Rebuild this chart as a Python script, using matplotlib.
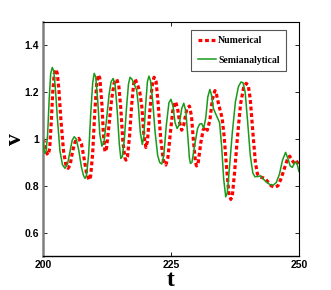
import matplotlib
matplotlib.use("Agg")
import matplotlib.pyplot as plt

# Numerical solution (red dashed)
t_num = [200.0, 200.3, 200.7, 201.0, 201.3, 201.6, 201.9, 202.2, 202.5, 202.8,
         203.1, 203.5, 204.0, 204.5, 204.9, 205.3, 205.8, 206.3, 207.0, 207.5,
         208.0, 208.5, 209.0, 209.3, 209.7, 210.1, 210.5, 210.8, 211.1, 211.5,
         211.8, 212.1, 212.4, 212.9, 213.4, 213.9, 214.4, 214.8, 215.2, 215.6,
         216.0, 216.2, 216.5, 216.9, 217.3, 217.7, 218.0, 218.5, 218.9, 219.3,
         219.7, 220.1, 220.4, 220.8, 221.3, 221.7, 222.1, 222.5, 223.0, 223.5,
         224.0, 224.4, 224.9, 225.4, 225.9, 226.3, 226.7, 227.1, 227.5, 228.1,
         228.6, 229.0, 229.4, 229.8, 230.0, 230.3, 230.8, 231.3, 231.7, 232.1,
         232.6, 233.1, 233.6, 233.9, 234.3, 234.6, 235.0, 235.4, 235.9, 236.3,
         236.7, 237.0, 237.4, 238.0, 238.6, 239.2, 239.7, 240.1, 240.5, 241.0,
         241.5, 241.9, 242.4, 242.9, 243.4, 244.0, 244.6, 245.3, 245.9, 246.5,
         247.1, 247.7, 248.2, 248.6, 249.0, 249.4, 249.7, 250.0]
v_num = [1.00, 0.985, 0.94, 0.932, 0.96, 1.07, 1.20, 1.28, 1.298, 1.28,
         1.21, 1.08, 0.95, 0.885, 0.875, 0.89, 0.95, 0.99, 1.003, 0.98,
         0.92, 0.855, 0.825, 0.84, 0.94, 1.11, 1.24, 1.274, 1.26, 1.15,
         1.02, 0.946, 0.96, 1.06, 1.17, 1.24, 1.256, 1.23, 1.13, 0.99,
         0.92, 0.910, 0.925, 1.01, 1.14, 1.235, 1.256, 1.23, 1.202, 1.14,
         1.02, 0.964, 0.99, 1.10, 1.225, 1.264, 1.245, 1.15, 1.00, 0.91,
         0.889, 0.92, 1.03, 1.13, 1.160, 1.13, 1.07, 1.038, 1.06, 1.13,
         1.141, 1.10, 0.99, 0.90, 0.885, 0.895, 0.98, 1.04, 1.052, 1.038,
         1.08, 1.17, 1.207, 1.19, 1.15, 1.124, 1.09, 1.01, 0.87, 0.77,
         0.742, 0.76, 0.85, 1.01, 1.15, 1.22, 1.238, 1.23, 1.17, 1.03,
         0.90, 0.85, 0.838, 0.835, 0.832, 0.815, 0.80, 0.794, 0.80, 0.83,
         0.87, 0.91, 0.927, 0.91, 0.90, 0.91, 0.90, 0.885]

# Semianalytical solution (green solid)
t_semi = [200.0, 200.2, 200.4, 200.6, 200.9, 201.2, 201.5, 201.8, 202.1, 202.4,
          202.8, 203.3, 203.8, 204.3, 204.8, 205.3, 205.7, 206.1, 206.5, 207.0,
          207.5, 207.9, 208.2, 208.5, 208.9, 209.3, 209.7, 210.0, 210.3, 210.7,
          211.1, 211.5, 211.9, 212.4, 212.9, 213.3, 213.7, 214.1, 214.5, 214.9,
          215.2, 215.5, 215.9, 216.3, 216.7, 217.0, 217.4, 217.9, 218.3, 218.6,
          219.0, 219.4, 219.7, 220.0, 220.4, 220.7, 221.0, 221.4, 221.9, 222.4,
          222.8, 223.2, 223.6, 224.1, 224.6, 225.0, 225.4, 225.8, 226.2, 226.6,
          227.1, 227.5, 227.9, 228.3, 228.6, 228.8, 229.1, 229.6, 230.2, 230.6,
          231.0, 231.4, 231.8, 232.2, 232.6, 232.9, 233.3, 233.9, 234.5, 234.9,
          235.3, 235.7, 236.0, 236.4, 237.0, 237.6, 238.2, 238.7, 239.1, 239.5,
          240.0, 240.5, 241.0, 241.4, 242.0, 242.5, 243.0, 243.7, 244.4, 245.0,
          245.6, 246.2, 246.8, 247.4, 247.8, 248.3, 248.7, 249.1, 249.4, 249.7,
          250.0]
v_semi = [0.99, 0.95, 0.939, 0.95, 1.02, 1.17, 1.28, 1.306, 1.29, 1.22,
          1.09, 0.95, 0.89, 0.875, 0.895, 0.95, 0.995, 1.010, 1.00, 0.95,
          0.88, 0.845, 0.832, 0.845, 0.93, 1.10, 1.24, 1.281, 1.265, 1.16,
          1.02, 0.970, 0.985, 1.08, 1.19, 1.245, 1.259, 1.23, 1.12, 0.98,
          0.917, 0.925, 1.00, 1.13, 1.235, 1.264, 1.255, 1.23, 1.209, 1.15,
          1.03, 0.977, 1.01, 1.13, 1.245, 1.269, 1.25, 1.17, 1.03, 0.93,
          0.90, 0.893, 0.93, 1.06, 1.155, 1.170, 1.14, 1.07, 1.045, 1.06,
          1.13, 1.153, 1.12, 1.01, 0.92, 0.896, 0.90, 0.97, 1.045, 1.064,
          1.066, 1.047, 1.09, 1.18, 1.212, 1.19, 1.13, 1.10, 1.07, 0.97,
          0.83, 0.753, 0.77, 0.87, 1.03, 1.16, 1.225, 1.244, 1.24, 1.20,
          1.07, 0.93, 0.855, 0.839, 0.84, 0.843, 0.83, 0.815, 0.805, 0.803,
          0.815, 0.85, 0.91, 0.943, 0.92, 0.885, 0.879, 0.895, 0.903, 0.89,
          0.862]

x_ticks = [200, 225, 250]
y_ticks = [0.6, 0.8, 1.0, 1.2, 1.4]
y_tick_labels = ["0.6", "0.8", "1", "1.2", "1.4"]

fig = plt.figure(figsize=(3.31, 2.90), dpi=100)
ax = fig.add_axes([0.130, 0.117, 0.773, 0.807])

ax.plot(t_num, v_num, color="#ff0000", lw=2.3, ls=(0, (1.2, 0.85)),
        label="Numerical", zorder=2)
ax.plot(t_semi, v_semi, color="#1a9a1a", lw=1.1, label="Semianalytical",
        zorder=3)

ax.set_xlim(200, 250)
ax.set_ylim(0.5, 1.5)
ax.set_xticks(x_ticks)
ax.set_xticklabels([str(x) for x in x_ticks])
ax.set_yticks(y_ticks)
ax.set_yticklabels(y_tick_labels)

for lab in ax.get_xticklabels() + ax.get_yticklabels():
    lab.set_fontfamily("Liberation Sans")
    lab.set_fontweight("bold")
    lab.set_fontsize(7.5)

ax.tick_params(direction="in", length=3, width=0.6, top=True, right=True,
               pad=3)

for side in ["top", "right", "bottom"]:
    ax.spines[side].set_color("black")
    ax.spines[side].set_linewidth(0.8)
ax.spines["bottom"].set_linewidth(1.0)
ax.spines["left"].set_color("#7f7f7f")
ax.spines["left"].set_linewidth(1.8)

ax.set_xlabel("t", family="Liberation Serif", weight="bold", fontsize=17,
              labelpad=0)
ax.set_ylabel("v", family="Liberation Serif", weight="bold", fontsize=17,
              labelpad=-1)

leg = ax.legend(loc="upper right", bbox_to_anchor=(0.949, 0.966),
                borderaxespad=0,
                prop=dict(family="Liberation Serif", weight="bold", size=7),
                handlelength=1.9, handletextpad=0.2, borderpad=0.65,
                labelspacing=1.05, fancybox=False, framealpha=1)
leg.get_frame().set_edgecolor("#555555")
leg.get_frame().set_linewidth(0.8)

fig.savefig("out.png", dpi=100)
